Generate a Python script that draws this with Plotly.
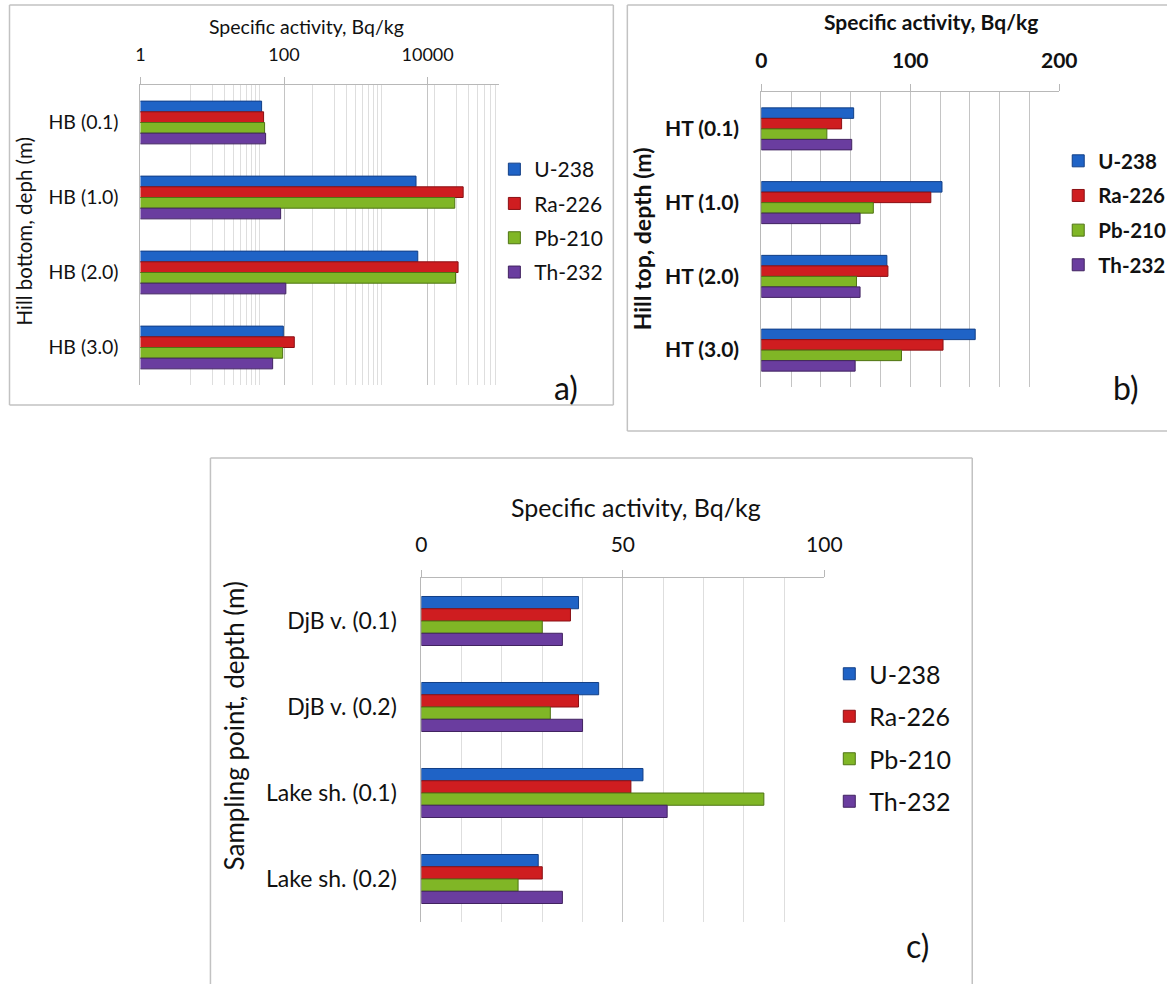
import plotly.graph_objects as go

# Page size, and the horizontal correction measured on earlier renders
# (the page came out ~2% narrower and shifted ~5 px to the right).
H = 985
S, OFF = 0.98, 5.5
W = int(round((1167 - OFF) / S))

# ---------------- data ----------------
series = ["U-238", "Ra-226", "Pb-210", "Th-232"]
fill_colors = ["#1f63c6", "#cf1d20", "#80b626", "#6a3d9f"]
edge_colors = ["#123f86", "#8a1014", "#4f7414", "#412360"]

# panel a : Hill bottom (log scale)
hb_cats = ["HB (0.1)", "HB (1.0)", "HB (2.0)", "HB (3.0)"]
hb_u238 = [48.7, 6900, 7300, 97.8]
hb_ra226 = [51.9, 31300, 26600, 139]
hb_pb210 = [53.6, 23900, 24500, 95.6]
hb_th232 = [55.4, 89.7, 106, 69.4]

# panel b : Hill top
ht_cats = ["HT (0.1)", "HT (1.0)", "HT (2.0)", "HT (3.0)"]
ht_u238 = [62, 121.3, 84.3, 143.6]
ht_ra226 = [53.9, 113.8, 85, 122]
ht_pb210 = [44, 75.2, 63.9, 94.1]
ht_th232 = [60.7, 66.3, 66.3, 63]

# panel c : sampling points
sp_cats = ["DjB v. (0.1)", "DjB v. (0.2)", "Lake sh. (0.1)", "Lake sh. (0.2)"]
sp_u238 = [39, 44, 55, 29]
sp_ra226 = [37, 39, 52, 30]
sp_pb210 = [30, 32, 85, 24]
sp_th232 = [35, 40, 61, 35]

# axis ticks
a_tickvals = [1, 100, 10000]
a_ticktext = ["1", "100", "10000"]
a_minorvals = [5, 10, 15, 20, 25, 30, 35, 40, 45,
               250, 500, 750, 1000, 1250, 1500, 1750, 2000, 2250,
               12500, 25000, 37500, 50000, 62500, 75000, 87500, 100000]

panels = [
    dict(cats=hb_cats, vals=[hb_u238, hb_ra226, hb_pb210, hb_th232], xa="x", ya="y", leg="legend", key="a"),
    dict(cats=ht_cats, vals=[ht_u238, ht_ra226, ht_pb210, ht_th232], xa="x2", ya="y2", leg="legend2", key="b"),
    dict(cats=sp_cats, vals=[sp_u238, sp_ra226, sp_pb210, sp_th232], xa="x3", ya="y3", leg="legend3", key="c"),
]

fig = go.Figure()
for p in panels:
    for name, vals, fc, ec in zip(series, p["vals"], fill_colors, edge_colors):
        fig.add_trace(go.Bar(
            x=vals, y=p["cats"], orientation="h", name=name,
            marker=dict(color=fc, line=dict(color=ec, width=1)),
            xaxis=p["xa"], yaxis=p["ya"], legend=p["leg"],
            legendgroup=p["key"] + name, showlegend=True,
        ))


def px(x):
    """target screen x (px) -> paper fraction"""
    return min(max(((x - OFF) / S) / W, 0.0), 1.0)


def py(y):
    return 1 - y / H


TXT = "#111111"
GRID = "#c4c4c4"
MINOR = "#dedede"
LINE = "#b8b8b8"
FONT = "Lato"

common_x = dict(side="top", showline=True, linecolor=LINE, linewidth=1,
                ticks="outside", ticklen=7, tickcolor=LINE, tickwidth=1,
                showgrid=True, gridcolor=GRID, gridwidth=1, zeroline=False,
                fixedrange=True)
common_y = dict(type="category", autorange="reversed", showline=True,
                linecolor=LINE, linewidth=1, ticks="", showgrid=False,
                zeroline=False, fixedrange=True)

fig.update_layout(
    width=W, height=H, autosize=False,
    margin=dict(l=0, r=0, t=0, b=0, pad=0),
    paper_bgcolor="white", plot_bgcolor="white",
    barmode="group", bargap=0.43, bargroupgap=0.0,
    font=dict(family=FONT, color=TXT),
    xaxis=dict(common_x, type="log", range=[0, 5], anchor="y",
               domain=[px(140), px(499)],
               tickmode="array", tickvals=a_tickvals, ticktext=a_ticktext,
               tickfont=dict(size=18, family=FONT, color=TXT),
               ticklabelstandoff=9,
               minor=dict(tickmode="array", tickvals=a_minorvals, showgrid=True,
                          gridcolor=MINOR, ticks="")),
    yaxis=dict(common_y, anchor="x", domain=[py(385), py(85)],
               categoryorder="array", categoryarray=hb_cats,
               tickfont=dict(size=19.5, family=FONT, color=TXT),
               ticklabelstandoff=17),
    xaxis2=dict(common_x, range=[0, 200], anchor="y2",
                domain=[px(761), px(1059)],
                dtick=100, tick0=0,
                tickfont=dict(size=21, family=FONT, color=TXT, weight="bold"),
                ticklabelstandoff=8,
                minor=dict(dtick=20, showgrid=True, gridcolor=GRID, ticks="")),
    yaxis2=dict(common_y, anchor="x2", domain=[py(387), py(92)],
                categoryorder="array", categoryarray=ht_cats,
                tickfont=dict(size=21, family=FONT, color=TXT, weight="bold"),
                ticklabelstandoff=17),
    xaxis3=dict(common_x, range=[0, 100], anchor="y3",
                domain=[px(421), px(824)],
                dtick=50, tick0=0,
                tickfont=dict(size=21, family=FONT, color=TXT),
                ticklabelstandoff=10,
                minor=dict(dtick=10, showgrid=True, gridcolor=MINOR, ticks="")),
    yaxis3=dict(common_y, anchor="x3", domain=[py(922), py(578)],
                categoryorder="array", categoryarray=sp_cats,
                tickfont=dict(size=23, family=FONT, color=TXT),
                ticklabelstandoff=19),
    legend=dict(x=px(494), y=py(149), xanchor="left", yanchor="top",
                font=dict(size=21, family=FONT, color=TXT),
                traceorder="grouped", tracegroupgap=4,
                bgcolor="rgba(0,0,0,0)"),
    legend2=dict(x=px(1058), y=py(141), xanchor="left", yanchor="top",
                 font=dict(size=20.5, family=FONT, color=TXT, weight="bold"),
                 traceorder="grouped", tracegroupgap=5,
                 bgcolor="rgba(0,0,0,0)"),
    legend3=dict(x=px(829), y=py(651), xanchor="left", yanchor="top",
                 font=dict(size=25, family=FONT, color=TXT),
                 traceorder="grouped", tracegroupgap=7,
                 bgcolor="rgba(0,0,0,0)"),
)

# panel frames (b is cut on the right, c at the bottom)
BORDER = "#c2c2c2"
frame_segments = [
    (9, 5, 613, 5), (613, 5, 613, 405), (613, 405, 9, 405), (9, 405, 9, 5),      # a
    (1167, 5, 627, 5), (627, 5, 627, 431), (627, 431, 1167, 431),                # b
    (210, 984, 210, 458), (210, 458, 972, 458), (972, 458, 972, 984),            # c
]
for (x0, y0, x1, y1) in frame_segments:
    fig.add_shape(type="line", xref="paper", yref="paper",
                  x0=px(x0), x1=px(x1), y0=py(y0), y1=py(y1),
                  line=dict(color=BORDER, width=1.5), layer="below")


def ann(text, x, y, size, bold=False, angle=0):
    fig.add_annotation(text=text, xref="paper", yref="paper", x=px(x), y=py(y),
                       xanchor="center", yanchor="middle", showarrow=False,
                       textangle=angle,
                       font=dict(size=size, family=FONT, color=TXT,
                                 weight="bold" if bold else "normal"))


ann("Specific activity, Bq/kg", 306, 27, 19.5)
ann("Specific activity, Bq/kg", 931, 22, 21, bold=True)
ann("Specific activity, Bq/kg", 636, 507, 25)
ann("Hill bottom, deph (m)", 24, 231, 20.5, angle=-90)
ann("Hill top, depth (m)", 642, 239, 23, bold=True, angle=-90)
ann("Sampling point, depth (m)", 234, 726, 26, angle=-90)
ann("a)", 566, 388, 32)
ann("b)", 1126, 387, 32)
ann("c)", 917, 945, 32)

fig.write_html("out.html")
